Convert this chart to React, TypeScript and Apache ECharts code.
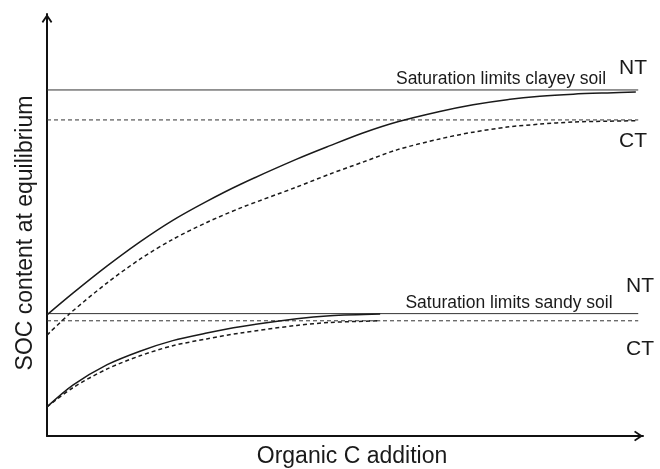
import React, { useEffect, useRef } from "react";
import * as echarts from "echarts";

// Normalised (unitless) axes: 0..100 on both
const xRange = [0, 100];
const yRange = [0, 100];

// Saturation limits (horizontal lines)
const limitEndX = 99.2;
const clayeyNTLimit = 82.0;
const clayeyCTLimit = 74.9;
const sandyNTLimit = 29.0;
const sandyCTLimit = 27.3;

// Curves [organic C addition, SOC at equilibrium]
const clayeyNT: number[][] = [
  [0, 28.7], [4.4, 33.9], [10.1, 40.3], [15.6, 46.0], [21.1, 51.1], [26.8, 55.6],
  [32.4, 59.6], [41.9, 65.6], [47.5, 68.8], [53.0, 71.8], [58.7, 74.4], [65.9, 76.9],
  [71.5, 78.5], [77.2, 79.7], [82.7, 80.5], [88.3, 81.0], [94.0, 81.3], [98.8, 81.5],
];
const clayeyCT: number[][] = [
  [0, 23.9], [3.9, 29.1], [10.1, 36.3], [15.6, 41.9], [21.1, 46.6], [26.8, 50.6],
  [32.4, 54.0], [41.9, 59.0], [47.5, 62.1], [53.0, 64.9], [58.7, 67.8], [65.9, 70.4],
  [71.5, 72.0], [77.2, 73.2], [82.7, 73.9], [88.3, 74.4], [94.0, 74.6], [98.8, 74.7],
];
const sandyNT: number[][] = [
  [0, 6.9], [4.4, 12.1], [10.1, 16.9], [15.6, 20.1], [21.1, 22.6], [26.8, 24.4],
  [32.4, 25.9], [41.9, 27.8], [47.5, 28.5], [55.9, 28.9],
];
const sandyCT: number[][] = [
  [0, 6.9], [4.4, 11.5], [10.1, 15.9], [15.6, 19.0], [21.1, 21.4], [26.8, 23.0],
  [32.4, 24.4], [41.9, 26.2], [47.5, 26.9], [55.9, 27.3],
];

const labels = {
  yTitle: "SOC content at equilibrium",
  xTitle: "Organic C addition",
  clayey: "Saturation limits clayey soil",
  sandy: "Saturation limits sandy soil",
  nt: "NT",
  ct: "CT",
};

const FONT = "'Liberation Sans', Arial, sans-serif";
const INK = "#1a1a1a";
const chevron = "path://M5,0 L10,7.4 L8.7,8.5 L5,3.1 L1.3,8.5 L0,7.4 Z";

export default function App() {
  const ref = useRef<HTMLDivElement>(null);
  useEffect(() => {
    if (!ref.current) return;
    const chart = echarts.init(ref.current, null, { renderer: "svg" });
    const limit = (y: number, dashed: boolean) => ({
      type: "line",
      data: [[0, y], [limitEndX, y]],
      symbol: "none",
      lineStyle: { color: "#333", width: 1, type: dashed ? [4, 3] : "solid" },
      silent: true,
    });
    const curve = (d: number[][], dashed: boolean) => ({
      type: "line",
      data: d,
      smooth: 0.3,
      symbol: "none",
      lineStyle: { color: INK, width: 1.5, type: dashed ? [4, 3] : "solid" },
      silent: true,
    });
    const axisLine = {
      show: true,
      symbol: ["none", chevron],
      symbolSize: [11, 9],
      symbolOffset: [0, -4.5],
      lineStyle: { color: "#111", width: 2 },
    };
    const common = {
      type: "value",
      axisLine,
      axisTick: { show: false },
      axisLabel: { show: false },
      splitLine: { show: false },
    };
    const txt = (x: number, y: number, text: string, size: number, rotation = 0) => ({
      type: "text",
      x,
      y,
      rotation,
      style: { text, font: `${size}px ${FONT}`, fill: INK, align: "center", verticalAlign: "middle" },
    });
    chart.setOption({
      animation: false,
      grid: { left: 47, right: 17, top: 14, bottom: 33 },
      xAxis: { ...common, min: xRange[0], max: xRange[1] },
      yAxis: { ...common, min: yRange[0], max: yRange[1] },
      graphic: [
        txt(24, 233, labels.yTitle, 23, Math.PI / 2),
        txt(352, 455, labels.xTitle, 23),
        txt(501, 78, labels.clayey, 17.5),
        txt(633, 66, labels.nt, 21),
        txt(633, 139, labels.ct, 21),
        txt(509, 302, labels.sandy, 17.5),
        txt(640, 284, labels.nt, 21),
        txt(640, 347, labels.ct, 21),
      ],
      series: [
        limit(clayeyNTLimit, false),
        limit(clayeyCTLimit, true),
        limit(sandyNTLimit, false),
        limit(sandyCTLimit, true),
        curve(clayeyNT, false),
        curve(clayeyCT, true),
        curve(sandyNT, false),
        curve(sandyCT, true),
      ],
    });
    return () => chart.dispose();
  }, []);
  return <div ref={ref} style={{ width: 660, height: 469, position: "fixed", left: 0, top: 0 }} />;
}
